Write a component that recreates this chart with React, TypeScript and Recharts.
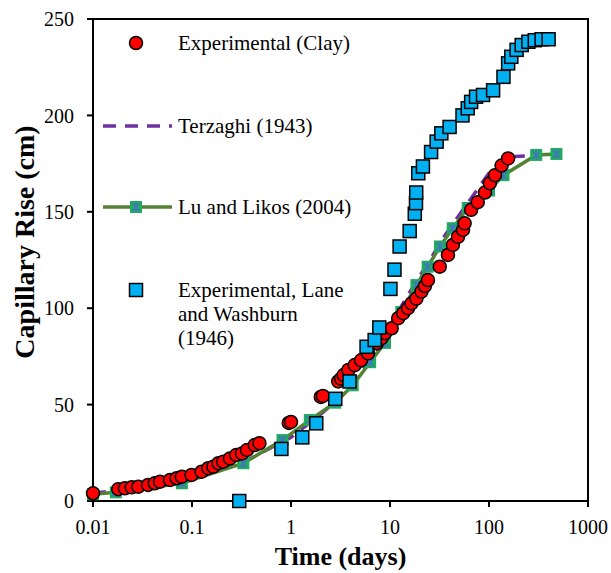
import { ScatterChart, Scatter, XAxis, YAxis, ReferenceArea, Label } from "recharts";

// Experimental (Clay)
const clayX = [0.01, 0.018, 0.021, 0.0246, 0.0287, 0.036, 0.042, 0.0475, 0.06, 0.07, 0.079, 0.099, 0.125, 0.146, 0.164, 0.185, 0.207, 0.242, 0.28, 0.32, 0.36, 0.43, 0.48, 0.95, 1.0, 2.0, 2.1, 3.0, 3.2, 3.4, 3.8, 4.4, 5.1, 6.0, 7.4, 8.2, 8.9, 10.4, 12.1, 13.6, 15.2, 16.5, 18.5, 20.8, 22.5, 24.2, 31.8, 38.5, 43.2, 48.6, 54.6, 56.7, 66, 77, 91, 102, 115, 134, 156];
const clayY = [4.0, 6.1, 6.6, 7.1, 7.4, 8.3, 9.2, 10, 10.9, 11.8, 12.6, 13.5, 15.2, 17, 17.8, 19.6, 20.4, 22.1, 23.9, 24.7, 26.5, 29, 30, 40.5, 41, 54, 54.5, 62, 63.5, 65.3, 68, 70.5, 73, 76.6, 81.8, 84.5, 87, 89.6, 94.8, 97.4, 100, 102.5, 105, 108.6, 111.5, 114.6, 121.5, 127.6, 132.8, 137, 140.6, 144, 151, 155, 160, 164.8, 169, 174, 177.7];

// Terzaghi (1943)
const terzX = [0.01, 0.03, 0.1, 0.3, 1, 2, 3, 5, 8, 12, 18, 26, 35, 45, 60, 75, 100, 130, 160, 230];
const terzY = [4, 7, 12, 19, 33, 45, 53, 67, 82, 98, 113, 126, 137, 145, 154, 161, 170, 176, 178.5, 179];

// Lu and Likos (2004)
const luX = [0.01, 0.017, 0.079, 0.33, 0.82, 1.55, 2.8, 4.2, 6.3, 8.9, 13, 18.5, 24, 32, 43, 61, 100, 140, 300, 480];
const luY = [3.5, 4.5, 9.2, 19.6, 31.6, 42, 51, 60, 72, 82, 98, 112, 121.5, 132, 141.5, 152, 161, 169, 179.5, 180];

// Experimental, Lane and Washburn (1946)
const laneX = [0.3, 0.8, 1.3, 1.8, 2.8, 3.9, 5.8, 7.0, 7.8, 10.1, 11.1, 12.5, 15.8, 17.8, 18.3, 18.4, 19.3, 21.5, 26, 29.6, 33, 40, 54, 61, 66, 74, 87, 110, 140, 156, 168, 190, 214, 250, 290, 340, 400];
const laneY = [0, 27, 33, 40.3, 53, 62, 80, 83.5, 90, 110, 120, 132, 140, 149, 154.5, 160, 170, 173.5, 181, 186.4, 190.7, 194, 200, 203.7, 207, 209.7, 210.6, 213, 220, 227, 230.4, 234, 236.5, 238.2, 239, 239.5, 239.5];

const xTicks = [0.01, 0.1, 1, 10, 100, 1000];
const yTicks = [0, 50, 100, 150, 200, 250];

const zip = (xs: number[], ys: number[]) => xs.map((x, i) => ({ x, y: ys[i] }));

const FONT = "'Liberation Serif', 'Times New Roman', serif";
const RED = "#ff0000";
const BLUE = "#00b0f0";
const GREEN_LINE = "#548235";
const GREEN_MARK = "#1fae5a";
const ASTER = "#4472c4";
const PURPLE = "#7030a0";

const RedDot = (p: any) => (
  <circle cx={p.cx} cy={p.cy} r={6.5} fill={RED} stroke="#000" strokeWidth={1.5} />
);

const BlueSquare = (p: any) => (
  <rect x={p.cx - 6.5} y={p.cy - 6.5} width={13} height={13} fill={BLUE} stroke="#000" strokeWidth={1.5} />
);

const LuMark = (p: any) => (
  <g>
    <rect x={p.cx - 6} y={p.cy - 6} width={12} height={12} fill={GREEN_MARK} />
    <path
      d={`M${p.cx - 4},${p.cy - 4}L${p.cx + 4},${p.cy + 4}M${p.cx + 4},${p.cy - 4}L${p.cx - 4},${p.cy + 4}M${p.cx},${p.cy - 5}L${p.cx},${p.cy + 5}`}
      stroke={ASTER}
      strokeWidth={1.5}
    />
  </g>
);

const NoMark = () => <g />;

function Overlay() {
  const text = { position: "absolute" as const, left: 178, fontFamily: FONT, fontSize: 21, lineHeight: "24px", color: "#000", whiteSpace: "nowrap" as const };
  return (
    <>
      <svg style={{ position: "absolute", left: 0, top: 0 }} width={611} height={573} pointerEvents="none">
        <text
          x={24}
          y={242}
          transform="rotate(-90 24 242)"
          textAnchor="middle"
          dominantBaseline="central"
          fontFamily={FONT}
          fontSize={28}
          fontWeight="bold"
          fill="#000"
        >
          Capillary Rise (cm)
        </text>
        <RedDot cx={136} cy={43} />
        <line x1={103} x2={172} y1={126} y2={126} stroke={PURPLE} strokeWidth={3.5} strokeDasharray="13 9" />
        <line x1={103} x2={172} y1={207} y2={207} stroke={GREEN_LINE} strokeWidth={3.5} />
        <LuMark cx={136} cy={207} />
        <BlueSquare cx={136} cy={290} />
      </svg>
      <div style={{ ...text, top: 31 }}>Experimental (Clay)</div>
      <div style={{ ...text, top: 114 }}>Terzaghi (1943)</div>
      <div style={{ ...text, top: 195 }}>Lu and Likos (2004)</div>
      <div style={{ ...text, top: 278 }}>
        Experimental, Lane
        <br />
        and Washburn
        <br />
        (1946)
      </div>
    </>
  );
}

export default function App() {
  const tickStyle = { fontSize: 20, fill: "#000", fontFamily: FONT };
  return (
    <div style={{ position: "absolute", left: 0, top: 0, width: 611, height: 573, background: "#fff" }}>
      <ScatterChart width={611} height={573} margin={{ top: 19, right: 23, bottom: 0, left: 33 }}>
        <XAxis
          dataKey="x"
          type="number"
          scale="log"
          domain={[0.01, 1000]}
          ticks={xTicks}
          height={72}
          tick={tickStyle}
          tickSize={6}
          tickMargin={13}
          axisLine={{ stroke: "#000", strokeWidth: 2 }}
          tickLine={{ stroke: "#000", strokeWidth: 2 }}
        >
          <Label
            value="Time (days)"
            position="insideBottom"
            offset={8}
            style={{ fontFamily: FONT, fontSize: 26, fontWeight: "bold", fill: "#000" }}
          />
        </XAxis>
        <YAxis
          dataKey="y"
          type="number"
          domain={[0, 250]}
          ticks={yTicks}
          width={60}
          tick={tickStyle}
          tickSize={6}
          tickMargin={13}
          axisLine={{ stroke: "#000", strokeWidth: 2 }}
          tickLine={{ stroke: "#000", strokeWidth: 2 }}
        />
        <ReferenceArea x1={0.01} x2={1000} y1={0} y2={250} fill="none" stroke="#000" strokeWidth={2} ifOverflow="visible" />
        <Scatter
          name="Terzaghi (1943)"
          data={zip(terzX, terzY)}
          line={{ stroke: PURPLE, strokeWidth: 3.5, strokeDasharray: "13 9" }}
          lineType="joint"
          shape={NoMark}
          isAnimationActive={false}
        />
        <Scatter
          name="Lu and Likos (2004)"
          data={zip(luX, luY)}
          line={{ stroke: GREEN_LINE, strokeWidth: 3.5 }}
          lineType="joint"
          shape={LuMark}
          isAnimationActive={false}
        />
        <Scatter name="Experimental (Clay)" data={zip(clayX, clayY)} shape={RedDot} isAnimationActive={false} />
        <Scatter
          name="Experimental, Lane and Washburn (1946)"
          data={zip(laneX, laneY)}
          shape={BlueSquare}
          isAnimationActive={false}
        />
      </ScatterChart>
      <Overlay />
    </div>
  );
}
